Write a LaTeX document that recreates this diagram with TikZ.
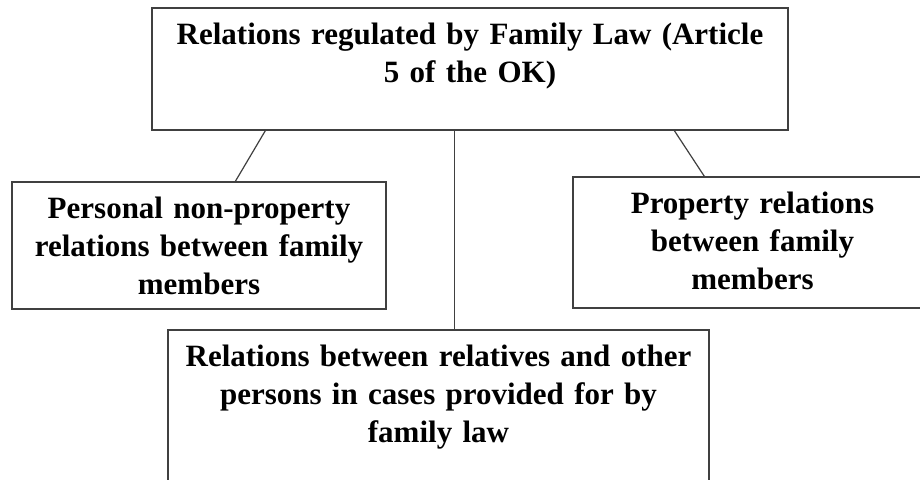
\documentclass[tikz,border=0pt]{standalone}
\usepackage{fontspec}
\setmainfont{Liberation Serif}
\begin{document}
\begin{tikzpicture}[x=1pt,y=-1pt,
  box/.style={draw=black!75, line width=1.3pt, inner sep=0pt, rectangle},
  txt/.style={font=\bfseries\fontsize{31}{38}\selectfont, align=center, inner sep=0pt, anchor=base},
  link/.style={draw=black!75, line width=1.2pt}]
\clip (0,0) rectangle (920,479);
\fill[white] (0,0) rectangle (920,479);
% boxes
\node[box, minimum width=636pt, minimum height=122pt] (top) at (470,69) {};
\node[box, minimum width=374pt, minimum height=127pt] (left) at (199,245.5) {};
\node[box, minimum width=359pt, minimum height=131pt] (right) at (752.5,242.5) {};
\node[box, minimum width=541pt, minimum height=160pt] (bottom) at (438.5,410) {};
% texts
\node[txt, text width=630pt] (ttop) at (470,44) {Relations regulated by Family Law (Article\\5 of the OK)};
\node[txt, text width=370pt] (tleft) at (199,218) {Personal non-property\\relations between family\\members};
\node[txt, text width=355pt] (tright) at (752.5,213) {Property relations\\between family\\members};
\node[txt, text width=535pt] (tbottom) at (438.5,366) {Relations between relatives and other\\persons in cases provided for by\\family law};
% connectors
\coordinate (c1) at ([xshift=114pt]top.south west);
\coordinate (c2) at ([xshift=224pt]left.north west);
\coordinate (c3) at ([xshift=303pt]top.south west);
\coordinate (c4) at ([xshift=287pt]bottom.north west);
\coordinate (c5) at ([xshift=523pt]top.south west);
\coordinate (c6) at ([xshift=132pt]right.north west);
\draw[link] (c1) -- (c2);
\draw[link] (c3) -- (c4);
\draw[link] (c5) -- (c6);
\end{tikzpicture}
\end{document}
